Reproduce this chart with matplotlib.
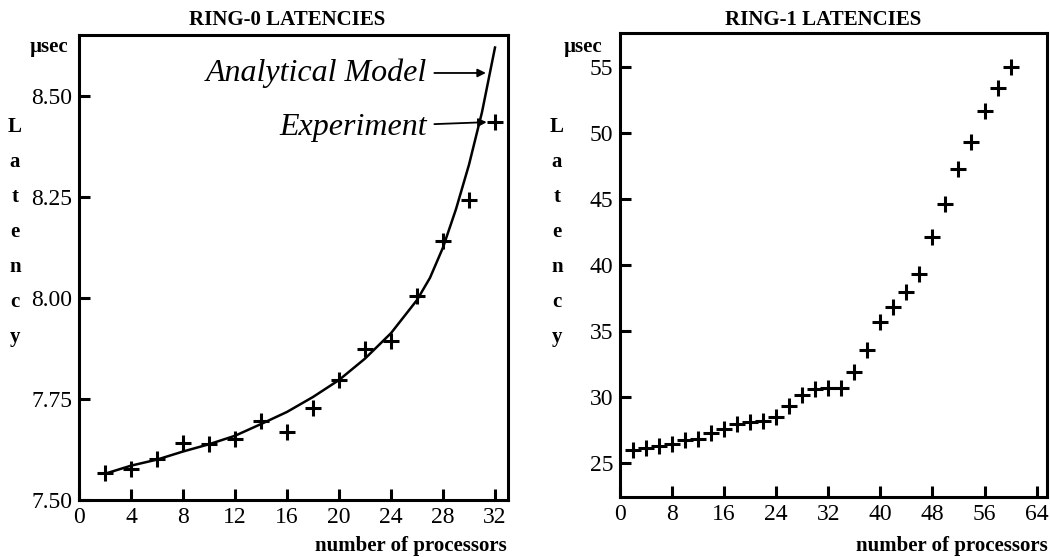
import matplotlib
matplotlib.use('Agg')
import matplotlib.pyplot as plt

plt.rcParams['font.family'] = ['Liberation Serif', 'DejaVu Serif']

# ── Ring-0 data ─────────────────────────────────────────────
r0_procs   = [2, 4, 6, 8, 10, 12, 14, 16, 18, 20, 22, 24, 26, 28, 30, 32]
r0_latency = [7.567, 7.577, 7.601, 7.640, 7.639, 7.650, 7.696, 7.669,
              7.728, 7.797, 7.873, 7.894, 8.005, 8.142, 8.243, 8.436]
model_procs   = [2, 4, 6, 8, 10, 12, 14, 16, 18, 20, 22, 24, 26, 27,
                 28, 29, 30, 31, 32]
model_latency = [7.565, 7.585, 7.600, 7.620, 7.638, 7.659, 7.688, 7.718,
                 7.755, 7.797, 7.850, 7.913, 7.995, 8.05, 8.125, 8.22,
                 8.33, 8.46, 8.62]
r0_xticks = [0, 4, 8, 12, 16, 20, 24, 28, 32]
r0_yticks = [7.50, 7.75, 8.00, 8.25, 8.50]

# ── Ring-1 data ─────────────────────────────────────────────
r1_procs   = list(range(2, 61, 2))
r1_latency = [26.0, 26.1, 26.3, 26.4, 26.7, 26.8, 27.25, 27.55, 27.95,
              28.1, 28.2, 28.5, 29.3, 30.15, 30.6, 30.65, 30.65, 31.85,
              33.55, 35.7, 36.8, 37.98, 39.3, 42.1, 44.6, 47.25, 49.3,
              51.7, 53.4, 55.0]
r1_xticks = [0, 8, 16, 24, 32, 40, 48, 56, 64]
r1_yticks = [25, 30, 35, 40, 45, 50, 55]

W, H = 1050, 557
fig = plt.figure(figsize=(W / 100, H / 100), dpi=100)


def px(x, y):
    return x / W, 1 - y / H


def style_axes(ax):
    for s in ax.spines.values():
        s.set_linewidth(2.2)
    ax.tick_params(direction='in', length=8, width=2.2, labelsize=17,
                   pad=5, top=False, right=False)


# ── Left panel ──────────────────────────────────────────────
ax1 = fig.add_axes([79 / W, 1 - 500 / H, (508 - 79) / W, (500 - 35) / H])
ax1.plot(model_procs, model_latency, 'k-', linewidth=1.8)
ax1.plot(r0_procs, r0_latency, 'k+', markersize=11, markeredgewidth=2.2)
ax1.set_xlim(0, 33)
ax1.set_ylim(7.50, 8.651)
ax1.set_xticks(r0_xticks)
ax1.set_yticks(r0_yticks)
ax1.set_yticklabels([f'{v:.2f}' for v in r0_yticks])
style_axes(ax1)

ax1.annotate('Analytical Model', xy=(31.3, 8.557), xytext=(26.8, 8.557),
             ha='right', va='center', fontsize=23, style='italic',
             arrowprops=dict(arrowstyle='-|>', color='k', lw=1.3,
                             mutation_scale=12, shrinkA=3, shrinkB=0))
ax1.annotate('Experiment', xy=(r0_procs[-1], r0_latency[-1]),
             xytext=(26.8, 8.423),
             ha='right', va='center', fontsize=23, style='italic',
             arrowprops=dict(arrowstyle='-|>', color='k', lw=1.3,
                             mutation_scale=12, shrinkA=3, shrinkB=6))

# ── Right panel ─────────────────────────────────────────────
ax2 = fig.add_axes([620 / W, 1 - 497 / H, (1047 - 620) / W, (497 - 33) / H])
ax2.plot(r1_procs, r1_latency, 'k+', markersize=11, markeredgewidth=2.2)
ax2.set_xlim(0, 65.6)
ax2.set_ylim(22.4, 57.6)
ax2.set_xticks(r1_xticks)
ax2.set_yticks(r1_yticks)
style_axes(ax2)

# ── Titles and labels ───────────────────────────────────────
fig.text(*px(287, 20), 'RING-0 LATENCIES', ha='center', va='center',
         fontsize=15, fontweight='bold')
fig.text(*px(823, 20), 'RING-1 LATENCIES', ha='center', va='center',
         fontsize=15, fontweight='bold')

for x0, xlab in [(49, 411), (583, 952)]:
    fig.text(*px(x0, 47), 'µsec', ha='center', va='center',
             fontsize=15, fontweight='bold')
    fig.text(*px(xlab, 546), 'number of processors', ha='center',
             va='center', fontsize=15, fontweight='bold')

for xl in [15, 557]:
    for i, ch in enumerate('Latency'):
        fig.text(*px(xl, 127 + 35 * i), ch, ha='center', va='center',
                 fontsize=15, fontweight='bold')

plt.savefig('out.png', dpi=100)
